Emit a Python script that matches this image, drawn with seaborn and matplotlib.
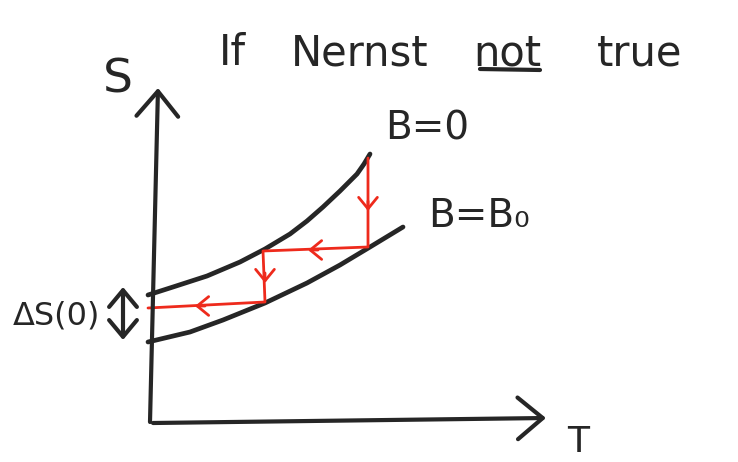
import numpy as np
import pandas as pd
import matplotlib
matplotlib.use("Agg")
import matplotlib.pyplot as plt
import seaborn as sns

# ---- data (T, S in sketch units) ----
b0_T = [-0.02, 0.23, 0.57, 0.90, 1.15, 1.40, 1.57, 1.73, 1.90, 2.07, 2.14, 2.20]
b0_S = [1.28, 1.36, 1.47, 1.61, 1.74, 1.89, 2.02, 2.16, 2.32, 2.49, 2.59, 2.69]
bB_T = [-0.02, 0.40, 0.73, 1.15, 1.57, 1.90, 2.20, 2.53]
bB_S = [0.81, 0.91, 1.03, 1.20, 1.40, 1.58, 1.76, 1.96]
red_T = [2.18, 2.18, 1.13, 1.15, -0.02]
red_S = [2.65, 1.76, 1.72, 1.21, 1.15]
# chevron arrowheads on the red path: tip positions and travel direction
chev_T = [2.18, 1.58, 1.15, 0.45]
chev_S = [2.12, 1.73, 1.40, 1.17]
chev_dT = [0.0, -1.0, 0.0, -1.0]
chev_dS = [-1.0, 0.0, -1.0, 0.0]
# axes of the sketch
s_axis_T = [0.00, 0.08]
s_axis_S = [0.01, 3.35]
t_axis_T = [0.03, 3.96]
t_axis_S = [0.00, 0.05]
dS_T = -0.27
dS_S = [0.83, 1.36]
# underline beneath "not"
ul_T = [3.30, 3.90]
ul_S = [3.54, 3.53]

sns.set_theme(style="white")
plt.rcParams['font.family'] = ['DejaVu Sans']

INK = '#262626'
RED = '#ee2a1c'

fig = plt.figure(figsize=(7.38, 4.62), dpi=100)
ax = fig.add_axes([0, 0, 1, 1])
ax.set_xlim(-1.50, 5.88)
ax.set_ylim(-0.39, 4.23)
ax.axis('off')

df0 = pd.DataFrame({'T': b0_T, 'S': b0_S})
dfB = pd.DataFrame({'T': bB_T, 'S': bB_S})
dfr = pd.DataFrame({'T': red_T, 'S': red_S})
sns.lineplot(data=df0, x='T', y='S', sort=False, estimator=None, color=INK,
             lw=3.4, ax=ax, solid_capstyle='round', solid_joinstyle='round')
sns.lineplot(data=dfB, x='T', y='S', sort=False, estimator=None, color=INK,
             lw=3.4, ax=ax, solid_capstyle='round', solid_joinstyle='round')
sns.lineplot(data=dfr, x='T', y='S', sort=False, estimator=None, color=RED,
             lw=2.0, ax=ax, solid_joinstyle='round')
ax.plot(ul_T, ul_S, color=INK, lw=3.0, solid_capstyle='round')

for t, s, dt, ds in zip(chev_T, chev_S, chev_dT, chev_dS):
    ax.annotate('', xy=(t, s), xytext=(t - 0.10 * dt, s - 0.10 * ds),
                arrowprops=dict(arrowstyle='->,head_length=0.55,head_width=0.45',
                                color=RED, lw=2.0, mutation_scale=15,
                                shrinkA=0, shrinkB=0))

# sketch axes
ax.annotate('', xy=(s_axis_T[1], s_axis_S[1]), xytext=(s_axis_T[0], s_axis_S[0]),
            arrowprops=dict(arrowstyle='->,head_length=0.6,head_width=0.5',
                            color=INK, lw=3.0, mutation_scale=30,
                            shrinkA=0, shrinkB=0))
ax.annotate('', xy=(t_axis_T[1], t_axis_S[1]), xytext=(t_axis_T[0], t_axis_S[0]),
            arrowprops=dict(arrowstyle='->,head_length=0.6,head_width=0.5',
                            color=INK, lw=3.0, mutation_scale=30,
                            shrinkA=0, shrinkB=0))
ax.annotate('', xy=(dS_T, dS_S[1]), xytext=(dS_T, dS_S[0]),
            arrowprops=dict(arrowstyle='<->,head_length=0.6,head_width=0.5',
                            color=INK, lw=3.0, mutation_scale=20,
                            shrinkA=0, shrinkB=0))

# labels
ax.text(-0.32, 3.43, 'S', fontsize=34, color=INK, ha='center', va='center')
ax.text(4.28, -0.02, 'T', fontsize=26, color=INK, ha='center', va='top')
ax.text(2.77, 2.94, 'B=0', fontsize=28, color=INK, ha='center', va='center')
ax.text(3.29, 2.07, 'B=B₀', fontsize=28, color=INK, ha='center', va='center')
ax.text(-0.94, 1.07, 'ΔS(0)', fontsize=23, color=INK, ha='center', va='center')

ax.text(0.82, 3.58, 'If', fontsize=30, color=INK, ha='center', va='baseline')
ax.text(2.10, 3.58, 'Nernst', fontsize=30, color=INK, ha='center', va='baseline')
ax.text(3.57, 3.58, 'not', fontsize=30, color=INK, ha='center', va='baseline')
ax.text(4.90, 3.58, 'true', fontsize=30, color=INK, ha='center', va='baseline')

fig.savefig('out.png', dpi=100)
